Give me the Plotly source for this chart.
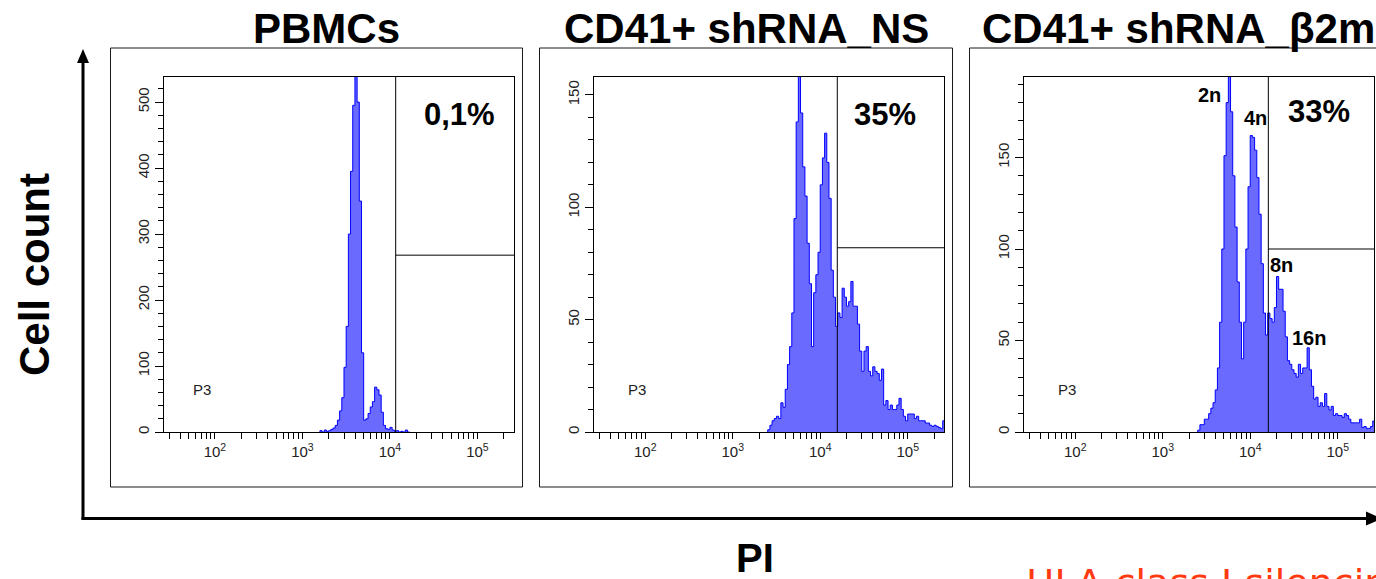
import numpy as np
import plotly.graph_objects as go

W, H = 1376, 579

# ---------------- data ----------------
panel_titles = ["PBMCs", "CD41+ shRNA_NS", "CD41+ shRNA_β2m"]
gate_pct = ["0,1%", "35%", "33%"]
gate_name = "P3"
ploidy_labels = ["2n", "4n", "8n", "16n"]

bin_width = 0.025          # log10(PI) bin width
pbmc_start = 3.200         # log10 of first bin edge
ns_start = 3.400
b2m_start = 3.400

pbmc_counts = [2, 0, 3, 1, 2, 4, 6, 10, 18, 32, 52, 98, 160, 300, 395, 495, 545, 500,
               350, 120, 18, 20, 28, 38, 46, 68, 64, 56, 30, 10, 5, 4, 7, 3, 1, 2,
               0, 1, 0, 3, 0]

ns_counts = [1, 3, 5, 6, 7, 6, 13, 11, 19, 30, 38, 53, 95, 138, 160, 142, 118, 105,
             84, 66, 38, 62, 70, 80, 110, 122, 133, 120, 104, 72, 60, 47, 53, 51, 64,
             60, 56, 58, 67, 56, 56, 48, 36, 27, 36, 38, 27, 25, 29, 27, 26, 23, 28,
             12, 14, 10, 12, 10, 10, 12, 15, 10, 7, 5, 8, 8, 8, 6, 7, 5, 5, 5, 4, 4,
             3, 2.5, 3, 2.5, 2, 1.5, 5]

b2m_counts = [1, 4, 4, 7, 7, 10, 13, 16, 23, 35, 60, 100, 151, 180, 196, 175, 140, 112,
              82, 60, 40, 60, 100, 134, 162, 161, 154, 139, 119, 92, 65, 53, 65, 62, 60,
              68, 85, 78, 78, 66, 52, 39, 37, 34, 32, 30, 37, 32, 35, 35, 46, 34, 25,
              18, 19, 14, 16, 14, 21, 14, 12, 14, 9, 10, 9, 9, 8, 10, 9, 7, 5, 5, 5, 5,
              7, 2.5, 3, 2, 2, 3, 6]

gate_x_log = [4.066, 4.195, 4.207]   # vertical gate position, log10(PI)
gate_y = [268, 82, 100]              # horizontal gate level, cell count
y_max = [538, 158, 194]
y_major = [100, 50, 50]
y_minor = [20, 10, 10]

x_range = [1.418, 5.418]             # log10 of 26.2 .. 262144
decades = [2, 3, 4, 5]

# ---------------- geometry ----------------
left_px = [164, 594.3, 1024.3]
plot_w = 350
top_px, bot_px = 77, 432
TICK_SIZE = 15


def px(x):
    return x / W


def py(y):
    return 1 - y / H


fig = go.Figure()

starts = [pbmc_start, ns_start, b2m_start]
counts_all = [pbmc_counts, ns_counts, b2m_counts]

minor_vals = []
for d in [1, 2, 3, 4, 5]:
    for m in range(2, 10):
        v = d + np.log10(m)
        if x_range[0] <= v <= x_range[1]:
            minor_vals.append(float(v))

for i in range(3):
    cnt = counts_all[i]
    edges = starts[i] + bin_width * np.arange(len(cnt) + 1)
    xs = [edges[0]] + list(edges[:-1]) + [edges[-1]]
    ys = [0] + list(cnt) + [0]
    sfx = "" if i == 0 else str(i + 1)
    fig.add_trace(go.Scatter(
        x=xs, y=ys, mode="lines", line=dict(shape="hv", color="#0000ff", width=1),
        fill="tozeroy", fillcolor="rgba(106,106,255,1)",
        xaxis="x" + sfx, yaxis="y" + sfx, showlegend=False, hoverinfo="skip"))

    ax = dict(
        domain=[px(left_px[i]), px(left_px[i] + plot_w)],
        range=x_range, showgrid=False, zeroline=False,
        showline=True, linecolor="black", linewidth=1, mirror=True,
        ticks="outside", ticklen=6, tickcolor="black", tickwidth=1,
        tickmode="array",
        tickvals=decades, ticktext=[f"10<sup>{d}</sup>" for d in decades],
        tickfont=dict(family="Liberation Sans", size=TICK_SIZE, color="#222"),
        minor=dict(tickvals=minor_vals, ticks="outside", ticklen=6,
                   tickcolor="black", tickwidth=1, showgrid=False),
        anchor="y" + sfx, fixedrange=True, automargin=False,
    )
    ay = dict(
        domain=[py(bot_px), py(top_px)],
        range=[0, y_max[i]], showgrid=False, zeroline=False,
        showline=True, linecolor="black", linewidth=1, mirror=True,
        ticks="outside", ticklen=8, tickcolor="black", tickwidth=1,
        tickmode="linear", tick0=0, dtick=y_major[i], tickangle=-90,
        tickfont=dict(family="Liberation Sans", size=TICK_SIZE, color="#222"),
        minor=dict(dtick=y_minor[i], tick0=0, ticks="outside", ticklen=5,
                   tickcolor="black", tickwidth=1, showgrid=False),
        anchor="x" + sfx, fixedrange=True, automargin=False,
    )
    fig.update_layout({"xaxis" + sfx: ax, "yaxis" + sfx: ay})

# ---------------- shapes ----------------
shapes = []
# outer panel frames
for x0, x1 in [(110.5, 522.5), (539.5, 952.5), (969.5, 1395)]:
    shapes.append(dict(type="rect", xref="paper", yref="paper",
                       x0=px(x0), x1=px(x1), y0=py(487), y1=py(48),
                       line=dict(color="#1a1a1a", width=1), layer="below"))
# gates
for i in range(3):
    sfx = "" if i == 0 else str(i + 1)
    shapes.append(dict(type="line", xref="x" + sfx, yref="y" + sfx + " domain",
                       x0=gate_x_log[i], x1=gate_x_log[i], y0=0, y1=1,
                       line=dict(color="black", width=1)))
    shapes.append(dict(type="line", xref="x" + sfx, yref="y" + sfx,
                       x0=gate_x_log[i], x1=x_range[1], y0=gate_y[i], y1=gate_y[i],
                       line=dict(color="black", width=1)))
# big axis arrows
shapes.append(dict(type="line", xref="paper", yref="paper",
                   x0=px(83), x1=px(83), y0=py(519.5), y1=py(58),
                   line=dict(color="black", width=3)))
shapes.append(dict(type="path", xref="paper", yref="paper",
                   path=f"M {px(77)} {py(63)} L {px(89)} {py(63)} L {px(83)} {py(49)} Z",
                   fillcolor="black", line=dict(color="black", width=0)))
shapes.append(dict(type="line", xref="paper", yref="paper",
                   x0=px(81.5), x1=px(1372), y0=py(518.5), y1=py(518.5),
                   line=dict(color="black", width=3)))
shapes.append(dict(type="path", xref="paper", yref="paper",
                   path=f"M {px(1366)} {py(511.5)} L {px(1366)} {py(525.5)} L {px(1382)} {py(518.5)} Z",
                   fillcolor="black", line=dict(color="black", width=0)))

# ---------------- annotations ----------------
ann = []
BOLD = "Liberation Sans, Arial"


def text(t, x, y, size, bold=True, color="black", xanchor="center", angle=0,
         family=BOLD):
    ann.append(dict(text=t, x=px(x), y=py(y), xref="paper", yref="paper",
                    showarrow=False, xanchor=xanchor, yanchor="middle",
                    textangle=angle,
                    font=dict(family=family, size=size, color=color,
                              weight="bold" if bold else "normal")))


text(panel_titles[0], 326, 29, 42)
text(panel_titles[1], 746, 29, 42)
text(panel_titles[2], 980, 29, 42, xanchor="left")
text("Cell count", 34, 275, 42, angle=-90)
text("PI", 755, 558, 40)

for (x, y), t in zip([(459, 114), (885, 114), (1319, 111)], gate_pct):
    text(t, x, y, 31)
for x in [202, 637, 1067]:
    text(gate_name, x, 390, 15, bold=False, color="#222")

for (x, y), t in zip([(1209, 95), (1255, 118), (1281, 265), (1309, 338)], ploidy_labels):
    text(t, x, y, 20)

# handwritten red note at the bottom right (cut by the page edge)
ann.append(dict(text="HLA class I silencing", x=px(1024), y=py(559), xref="paper",
                yref="paper", showarrow=False, xanchor="left", yanchor="top",
                font=dict(family="DejaVu Sans", size=38, color="#ff3a10")))

fig.update_layout(
    width=W, height=H, margin=dict(l=0, r=0, t=0, b=0),
    font=dict(family="Liberation Sans", size=TICK_SIZE, color="#222"),
    paper_bgcolor="white", plot_bgcolor="white",
    shapes=shapes, annotations=ann, showlegend=False,
)

fig.write_html("out.html",
               config={"displayModeBar": False},
               post_script="document.body.style.margin='0px';"
                           "document.body.style.overflow='hidden';")
